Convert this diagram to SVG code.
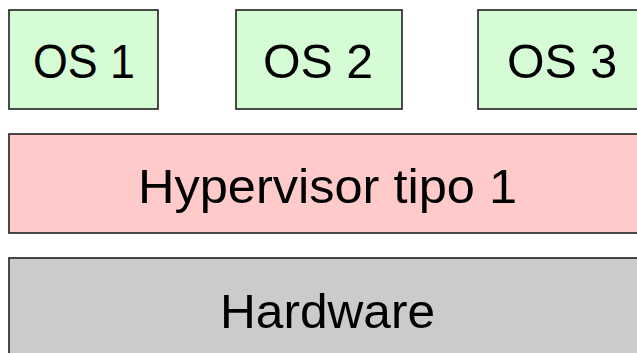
<svg xmlns="http://www.w3.org/2000/svg" width="637" height="353" viewBox="0 0 637 353">
  <style>
    .box { stroke: #1e1e1e; stroke-width: 1.6; }
    .os { fill: #d5fcd5; }
    .hyp { fill: #ffcaca; }
    .hw { fill: #cbcbcb; }
    .lbl { font-family: "Liberation Sans", Arial, sans-serif; font-size: 48px; fill: #000; text-anchor: middle; }
  </style>
  <rect width="637" height="353" fill="#ffffff"/>
  <g id="os1">
    <rect class="box os" x="9" y="10" width="149" height="99"/>
    <text class="lbl" x="84" y="78" textLength="102" lengthAdjust="spacingAndGlyphs">OS 1</text>
  </g>
  <g id="os2">
    <rect class="box os" x="236" y="10" width="166" height="99"/>
    <text class="lbl" x="318" y="78" textLength="110" lengthAdjust="spacingAndGlyphs">OS 2</text>
  </g>
  <g id="os3">
    <rect class="box os" x="478" y="10" width="168" height="99"/>
    <text class="lbl" x="562" y="78" textLength="110" lengthAdjust="spacingAndGlyphs">OS 3</text>
  </g>
  <g id="hypervisor">
    <rect class="box hyp" x="9" y="134" width="637" height="99"/>
    <text class="lbl" x="327.5" y="203" textLength="379" lengthAdjust="spacingAndGlyphs">Hypervisor tipo 1</text>
  </g>
  <g id="hardware">
    <rect class="box hw" x="9" y="258" width="637" height="110"/>
    <text class="lbl" x="327.5" y="328" textLength="215" lengthAdjust="spacingAndGlyphs">Hardware</text>
  </g>
  <g id="connectors"/>
</svg>
